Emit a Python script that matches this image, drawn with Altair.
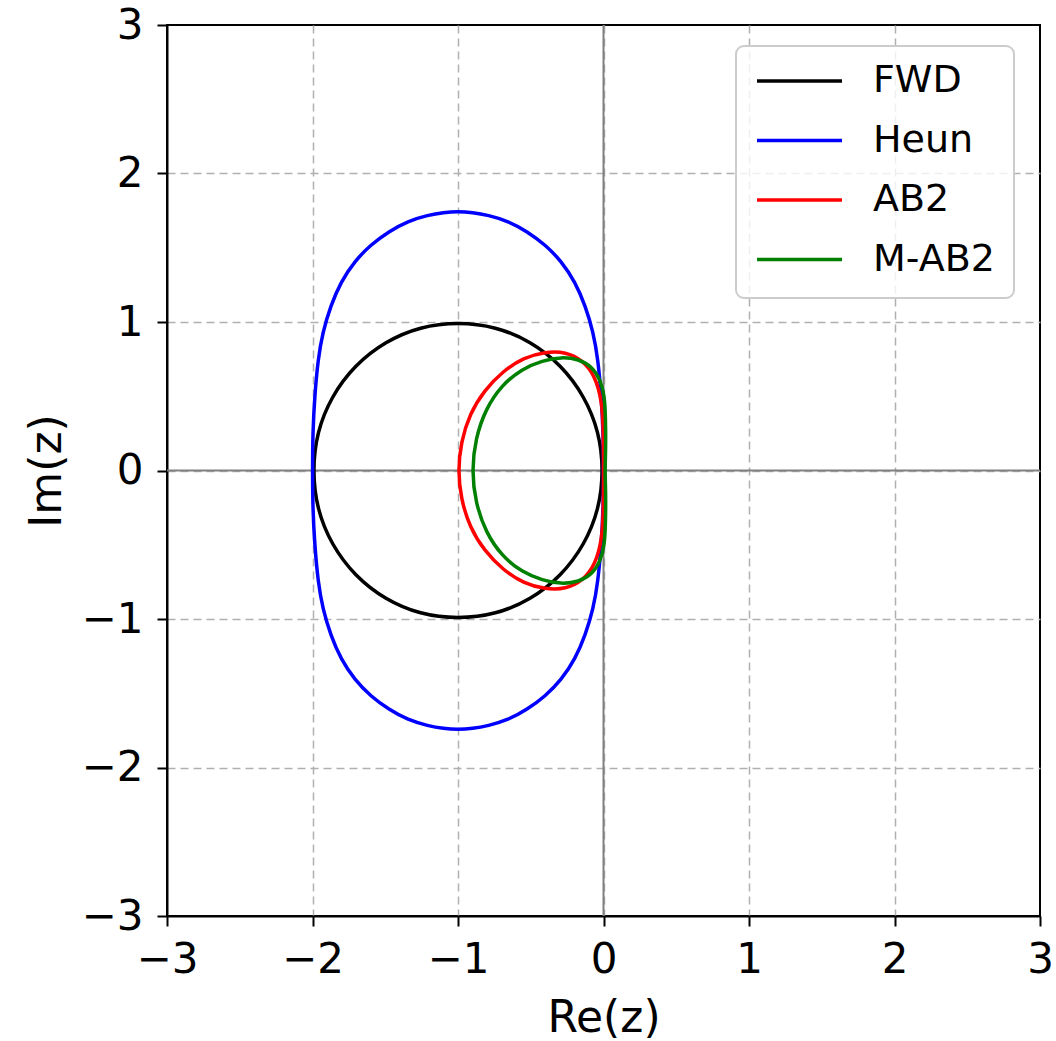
import altair as alt
import pandas as pd

# ---------------- data ----------------
series_names = ["FWD", "Heun", "AB2", "M-AB2"]
series_colors = ["#000000", "#0000ff", "#ff0000", "#008000"]
tick_values = [-3, -2, -1, 0, 1, 2, 3]

fwd_re = [0.0, -0.03, -0.13, -0.29, -0.5, -0.74, -1.0, -1.26, -1.5, -1.71, -1.87, -1.97,
          -2.0, -1.97, -1.87, -1.71, -1.5, -1.26, -1.0, -0.74, -0.5, -0.29, -0.13, -0.03]
fwd_im = [0.0, 0.26, 0.5, 0.71, 0.87, 0.97, 1.0, 0.97, 0.87, 0.71, 0.5, 0.26,
          0.0, -0.26, -0.5, -0.71, -0.87, -0.97, -1.0, -0.97, -0.87, -0.71, -0.5, -0.26]

heun_re = [0.0, -0.002, -0.015, -0.038, -0.07, -0.125, -0.195, -0.29, -0.40, -0.525, -0.655, -0.795, -0.90,
           -1.0,
           -1.10, -1.205, -1.345, -1.475, -1.60, -1.71, -1.805, -1.875, -1.93, -1.962, -1.985, -1.998,
           -2.0,
           -1.998, -1.985, -1.962, -1.93, -1.875, -1.805, -1.71, -1.60, -1.475, -1.345, -1.205, -1.10,
           -1.0,
           -0.90, -0.795, -0.655, -0.525, -0.40, -0.29, -0.195, -0.125, -0.07, -0.038, -0.015, -0.002]
heun_im = [0.0, 0.26, 0.5, 0.75, 0.93, 1.11, 1.27, 1.41, 1.52, 1.61, 1.68, 1.72, 1.738,
           1.745,
           1.738, 1.72, 1.68, 1.61, 1.52, 1.41, 1.27, 1.11, 0.93, 0.75, 0.5, 0.26,
           0.0,
           -0.26, -0.5, -0.75, -0.93, -1.11, -1.27, -1.41, -1.52, -1.61, -1.68, -1.72, -1.738,
           -1.745,
           -1.738, -1.72, -1.68, -1.61, -1.52, -1.41, -1.27, -1.11, -0.93, -0.75, -0.5, -0.26]

ab2_re = [0.0, 0.0, -0.01, -0.06, -0.14, -0.26, -0.40, -0.55, -0.69, -0.82, -0.92, -0.98,
          -1.0, -0.98, -0.92, -0.82, -0.69, -0.55, -0.40, -0.26, -0.14, -0.06, -0.01, 0.0]
ab2_im = [0.0, 0.26, 0.47, 0.64, 0.74, 0.80, 0.80, 0.76, 0.67, 0.54, 0.38, 0.19,
          0.0, -0.19, -0.38, -0.54, -0.67, -0.76, -0.80, -0.80, -0.74, -0.64, -0.47, -0.26]

mab2_re = [0.01, 0.015, 0.015, 0.012, 0.006, -0.02, -0.08, -0.17, -0.29, -0.42, -0.56, -0.70,
           -0.81, -0.88, -0.905, -0.88, -0.81, -0.70, -0.56, -0.42, -0.29, -0.17, -0.08, -0.02,
           0.006, 0.012, 0.015, 0.015]
mab2_im = [0.0, 0.14, 0.28, 0.40, 0.50, 0.61, 0.70, 0.75, 0.765, 0.74, 0.685, 0.575,
           0.415, 0.215, 0.0, -0.215, -0.415, -0.575, -0.685, -0.74, -0.765, -0.75, -0.70, -0.61,
           -0.50, -0.40, -0.28, -0.14]

curves = [(series_names[0], fwd_re, fwd_im),
          (series_names[1], heun_re, heun_im),
          (series_names[2], ab2_re, ab2_im),
          (series_names[3], mab2_re, mab2_im)]

# ---------------- encodings ----------------
edge_test = "abs(datum.value) >= 3"
axis_common = dict(labelFont="DejaVu Sans", labelFontSize=42, labelColor="black",
                   titleFont="DejaVu Sans", titleFontSize=44, titleFontWeight="normal",
                   titleColor="black", labelFlush=False, values=tick_values, format="d",
                   gridOpacity={"condition": {"test": edge_test, "value": 0}, "value": 1})

x_enc = alt.X("re:Q", scale=alt.Scale(domain=[-3, 3], nice=False, zero=False),
              axis=alt.Axis(title="Re(z)", labelPadding=13, titleX=436.5, titleY=115,
                            titleBaseline="alphabetic", titleAlign="center", **axis_common))
y_enc = alt.Y("im:Q", scale=alt.Scale(domain=[-3, 3], nice=False, zero=False),
              axis=alt.Axis(title="Im(z)", labelPadding=14, titleX=-107, titleY=445.5,
                            titleAngle=270, titleBaseline="alphabetic", titleAlign="center",
                            **axis_common))

color_enc = alt.Color(
    "series:N",
    scale=alt.Scale(domain=series_names, range=series_colors),
    legend=alt.Legend(title=None, orient="none", legendX=569, legendY=21,
                      symbolType="stroke", symbolSize=7225, symbolStrokeWidth=3.5,
                      labelFont="DejaVu Sans", labelFontSize=38, labelColor="black",
                      labelOffset=29, rowPadding=21.5, clipHeight=32, padding=19,
                      cornerRadius=8, strokeColor="#cccccc",
                      fillColor="rgba(255,255,255,0.8)"),
)

vline = alt.Chart(pd.DataFrame({"re": [0.0]})).mark_rule(
    color="#808080", strokeWidth=2).encode(x=x_enc)
hline = alt.Chart(pd.DataFrame({"im": [0.0]})).mark_rule(
    color="#808080", strokeWidth=2).encode(y=y_enc)

layers = [vline, hline]
for name, re, im in curves:
    df = pd.DataFrame({"series": name, "re": re, "im": im, "idx": list(range(len(re)))})
    layers.append(
        alt.Chart(df).mark_line(strokeWidth=3.5, interpolate="basis-closed").encode(
            x=x_enc, y=y_enc, color=color_enc, order="idx:Q")
    )

chart = alt.layer(*layers).properties(
    width=873, height=891,
    autosize=alt.AutoSizeParams(type="none"),
    padding={"left": 167, "top": 25, "right": 16, "bottom": 125},
    background="white",
).configure_view(
    stroke="black", strokeWidth=2
).configure_axis(
    domainColor="black", domainWidth=2, tickColor="black", tickWidth=2, tickSize=10,
    gridColor="#b0b0b0", gridDash=[8, 5], gridWidth=1.5,
).configure_legend(
    strokeWidth=2
)

chart.save("out.html", embed_options={"renderer": "svg", "actions": False})
